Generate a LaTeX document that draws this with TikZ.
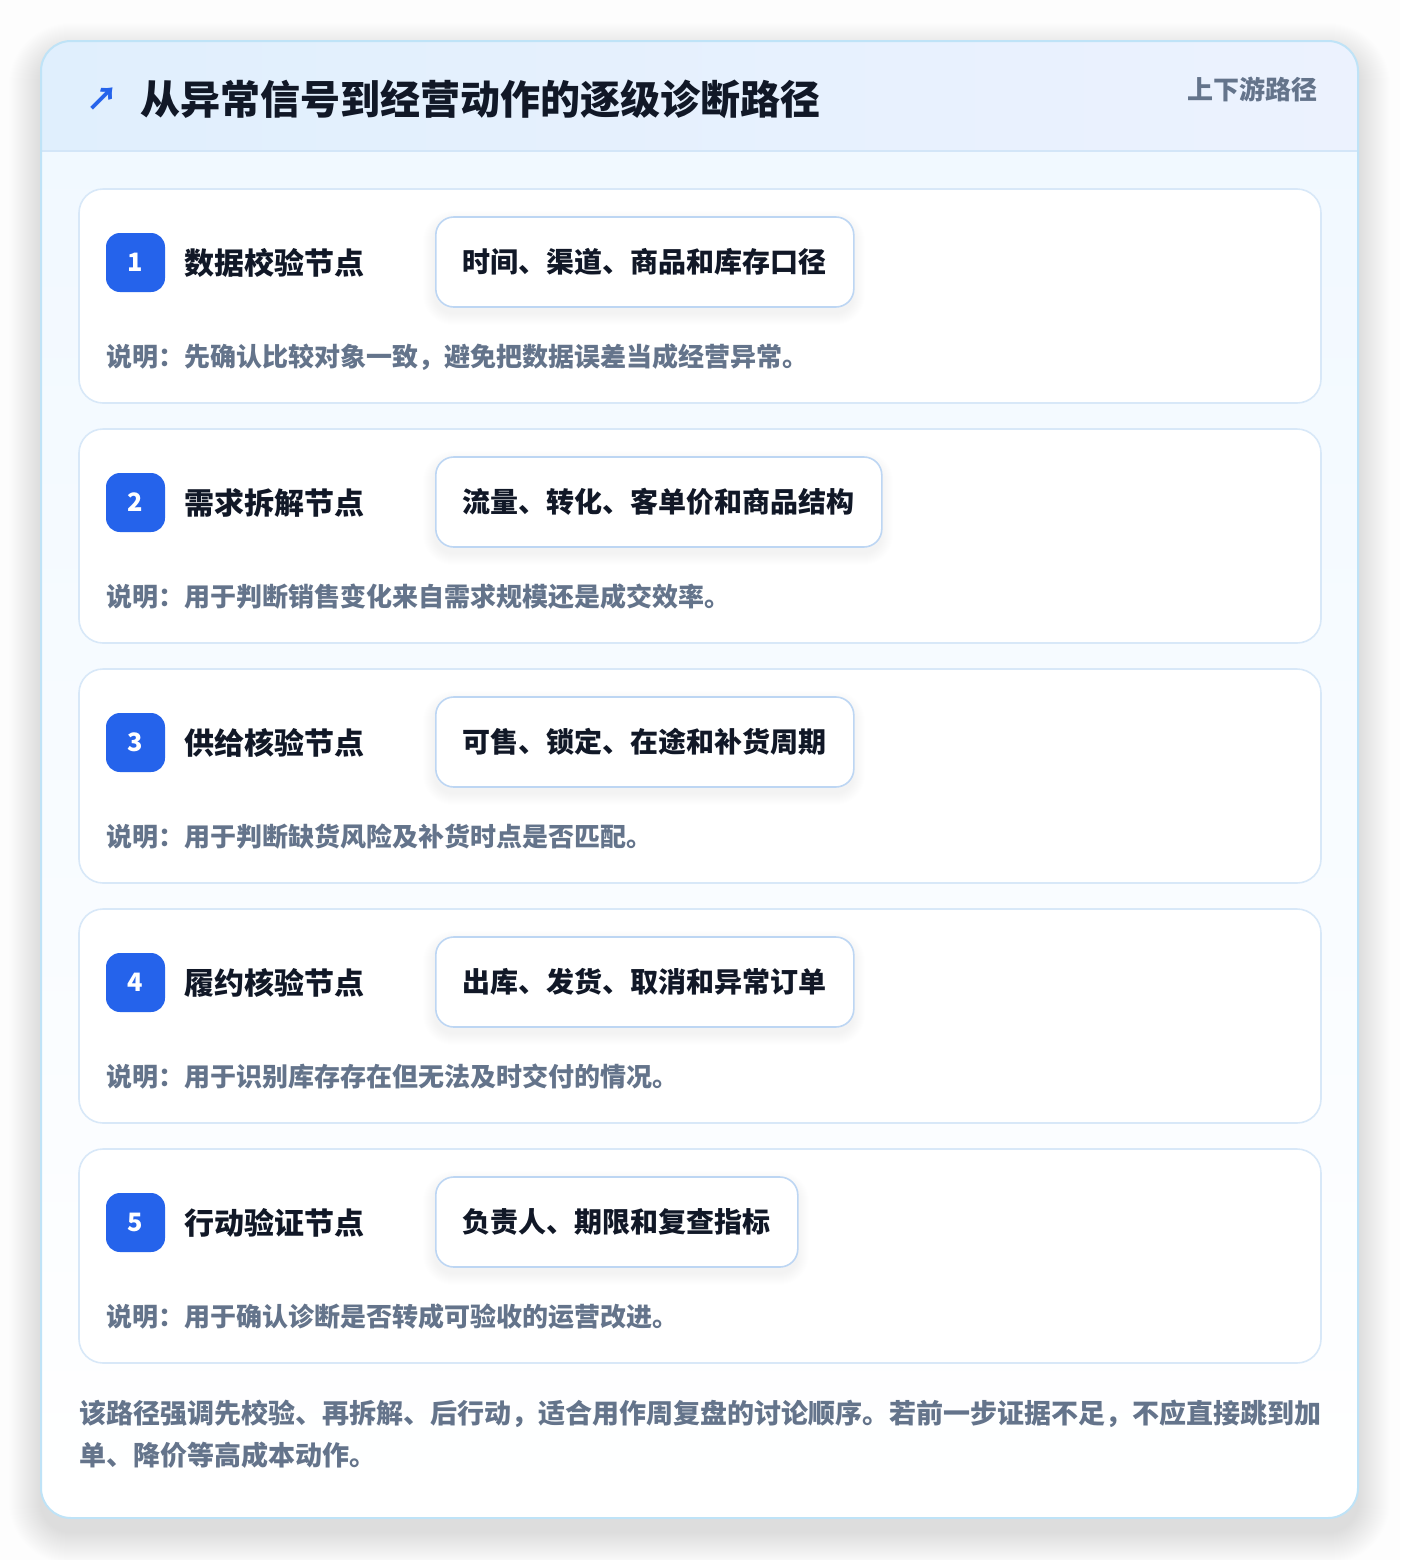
\documentclass[tikz,border=0pt]{standalone}
\usepackage{fontspec}
\setmainfont{Noto Sans CJK SC}
\definecolor{ink}{HTML}{111827}
\definecolor{muted}{HTML}{64748B}
\definecolor{accent}{HTML}{2563EB}
\definecolor{outerline}{HTML}{BFE3F7}
\definecolor{cardline}{HTML}{D8E8F8}
\definecolor{tagline}{HTML}{BDD6F3}
\definecolor{hdrL}{HTML}{E0EFFD}
\definecolor{hdrR}{HTML}{ECF2FE}
\definecolor{hdrrule}{HTML}{D3E6F8}
\definecolor{bodytop}{HTML}{F0F8FF}
\definecolor{pagebg}{HTML}{FDFDFD}
\definecolor{shadowc}{HTML}{1E293B}
\begin{document}
\begin{tikzpicture}[x=0.75pt,y=-0.75pt,
  cardbox/.style={draw=cardline, line width=1.2pt, fill=white, rounded corners=18pt,
    minimum width=0.75*1242pt, minimum height=0.75*214pt, inner sep=0pt},
  badgebox/.style={fill=accent, rounded corners=10.5pt, minimum width=44.25pt,
    minimum height=44.25pt, inner sep=0pt, text=white, font=\fontsize{19}{21}\selectfont\bfseries},
  steptitle/.style={anchor=west, inner sep=0pt, text=ink, font=\fontsize{22.5}{26}\selectfont\bfseries},
  tagbox/.style={draw=tagline, line width=1.2pt, fill=white, rounded corners=13.5pt,
    minimum height=67.5pt, inner sep=0pt, anchor=west, text=ink,
    font=\fontsize{21}{24}\selectfont\bfseries},
  desctext/.style={anchor=west, inner sep=0pt, text=muted, font=\fontsize{19.5}{22}\selectfont\bfseries},
  softlayer/.style={fill=shadowc, fill opacity=#1},
]
\useasboundingbox (0,0) rectangle (1400,1560);
\fill[pagebg] (0,0) rectangle (1400,1560);
% soft shadow of the outer card
\foreach \k in {1,...,32}{
  \fill[softlayer=0.0023, rounded corners={22.5pt+0.75pt*\k}]
    (41-\k,41-\k+14) rectangle (1358+\k,1518+\k+14);
}
\path[fill=white, rounded corners=22.5pt] (41,41) rectangle (1358,1518);
\shade[top color=bodytop, bottom color=white, rounded corners=22.5pt] (41,41) rectangle (1358,1518);
\begin{scope}
  \clip[rounded corners=22.5pt] (41,41) rectangle (1358,1518);
  \shade[left color=hdrL, right color=hdrR] (41,41) rectangle (1358,151);
\end{scope}
\draw[hdrrule, line width=1.2pt] (41,151) -- (1358,151);
\draw[outerline, line width=1.5pt, rounded corners=22.5pt] (41,41) rectangle (1358,1518);
% header
\node[anchor=center, inner sep=0pt, text=accent, font=\fontsize{24}{26}\selectfont\bfseries] (icon) at (102,99) {↗};
\node[anchor=west, inner sep=0pt, text=ink, font=\fontsize{30}{34}\selectfont\bfseries] (maintitle) at (140,99) {从异常信号到经营动作的逐级诊断路径};
\node[anchor=east, inner sep=0pt, text=muted, font=\fontsize{19.5}{22}\selectfont\bfseries] (hdrlabel) at (1318,89) {上下游路径};
% step cards
\foreach \i/\ttl/\tg/\tw/\dsc in {
  1/数据校验节点/时间、渠道、商品和库存口径/418/说明：先确认比较对象一致，避免把数据误差当成经营异常。,
  2/需求拆解节点/流量、转化、客单价和商品结构/446/说明：用于判断销售变化来自需求规模还是成交效率。,
  3/供给核验节点/可售、锁定、在途和补货周期/418/说明：用于判断缺货风险及补货时点是否匹配。,
  4/履约核验节点/出库、发货、取消和异常订单/418/说明：用于识别库存存在但无法及时交付的情况。,
  5/行动验证节点/负责人、期限和复查指标/362/说明：用于确认诊断是否转成可验收的运营改进。}{
  \pgfmathsetmacro\tp{189+240*(\i-1)}
  \node[cardbox] (card\i) at (700,\tp+107) {};
  \node[badgebox] (badge\i) at (135.5,\tp+73.5) {\i};
  \node[steptitle] (title\i) at (184,\tp+74) {\ttl};
  \foreach \k in {1,...,12}{
    \fill[softlayer=0.0045, rounded corners={13.5pt+0.75pt*\k}]
      (435-\k,\tp+28-\k+6) rectangle (435+\tw+\k,\tp+118+\k+6);
  }
  \node[tagbox, minimum width=0.75*\tw pt] (tag\i) at (435,\tp+73) {\tg};
  \node[desctext] (desc\i) at (106,\tp+168) {\dsc};
}
% footer
\node[anchor=north west, inner sep=0pt, text=muted, align=left,
  font=\fontsize{20.25}{31.5}\selectfont\bfseries] (footer) at (79,1400)
  {该路径强调先校验、再拆解、后行动，适合用作周复盘的讨论顺序。若前一步证据不足，不应直接跳到加\\单、降价等高成本动作。};
\end{tikzpicture}
\end{document}
